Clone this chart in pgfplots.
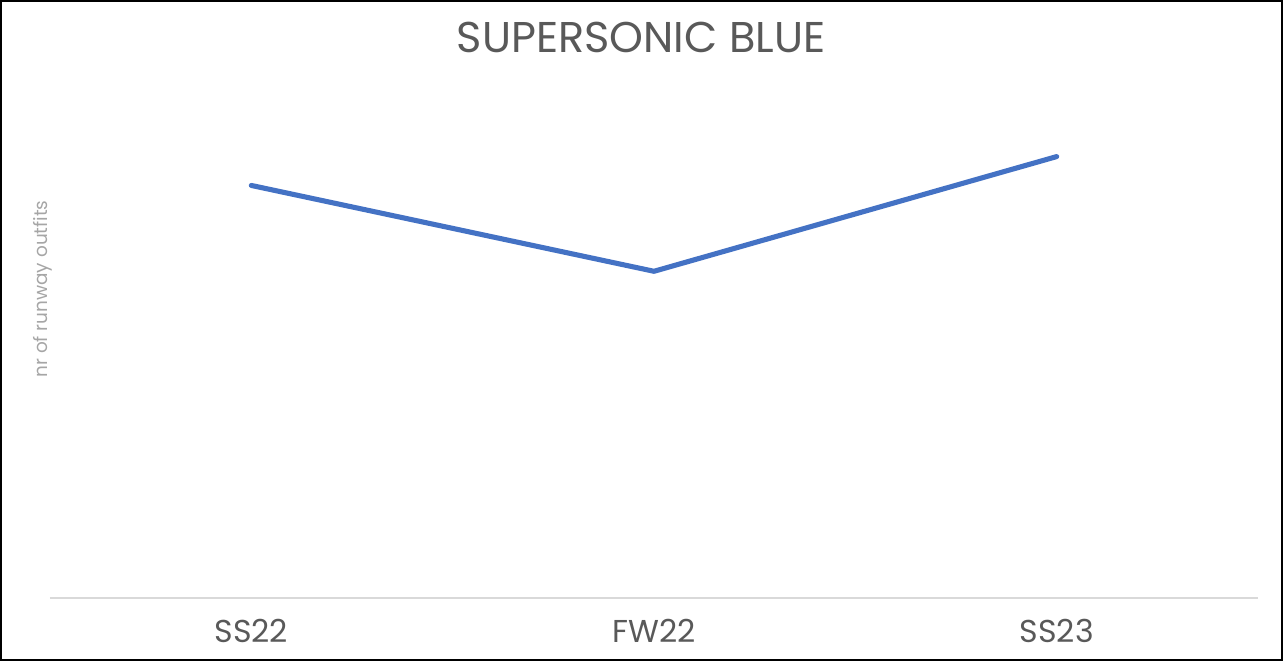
\documentclass[border=0pt]{standalone}
\usepackage{pgfplots}
\pgfplotsset{compat=1.18}
\usepackage{fontspec}
\setmainfont{Poppins}
\definecolor{lineblue}{HTML}{4472C4}
\definecolor{textgray}{HTML}{595959}
\definecolor{axisgray}{HTML}{D9D9D9}
\definecolor{labelgray}{HTML}{A6A6A6}
\begin{document}
\begin{tikzpicture}
% 1 px of the reference = 0.02cm, origin = lower left of plot area
\useasboundingbox (-1cm,-1.26cm) rectangle (24.66cm,11.96cm);
\draw[black,line width=0.04cm] (-0.98cm,-1.24cm) rectangle (24.64cm,11.94cm);
\begin{axis}[
    at={(0,0)},anchor=south west,
    scale only axis,
    width=24.16cm,height=10.36cm,
    xmin=-0.5,xmax=2.5,ymin=0,ymax=14,
    axis x line=bottom,axis y line=none,
    x axis line style={axisgray,line width=1.2pt,-},
    xtick={0,1,2},
    xticklabels={SS22,FW22,SS23},
    major tick length=0pt,
    xticklabel style={font=\fontsize{18}{20}\selectfont,text=textgray,anchor=center,yshift=-0.66cm},
    ytick=\empty,
    clip=false]
\addplot[lineblue,line width=2.9pt,line cap=round,line join=round]
    coordinates {(0,11.15)(1,8.83)(2,11.93)};
\end{axis}
\node[text=textgray,font=\fontsize{24.5}{28}\selectfont] at (11.82cm,11.22cm) {SUPERSONIC BLUE};
\node[text=labelgray,font=\fontsize{10.5}{12}\selectfont,rotate=90] at (-0.14cm,6.18cm) {nr of runway outfits};
\end{tikzpicture}
\end{document}
